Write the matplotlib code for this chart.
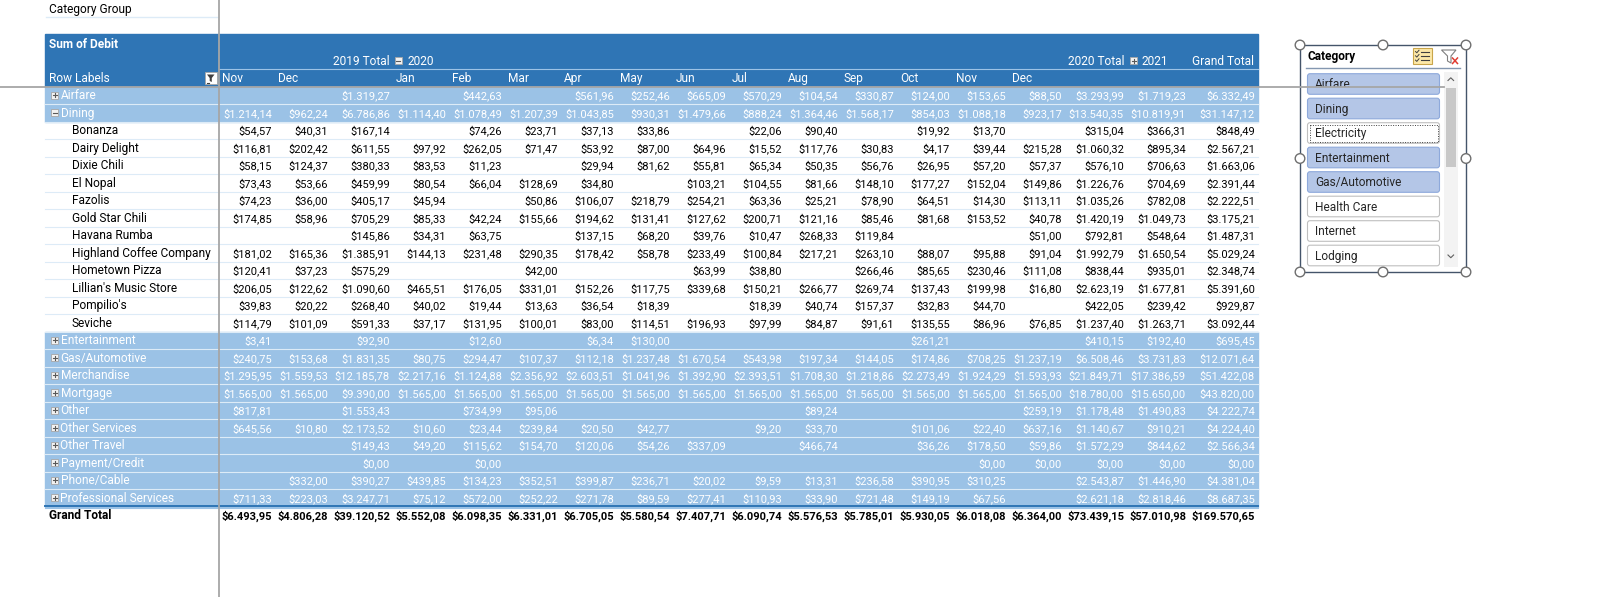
import matplotlib.pyplot as plt
from matplotlib.patches import Rectangle, FancyBboxPatch, Circle, Polygon
from matplotlib.transforms import Bbox, TransformedBbox

plt.rcParams['font.family'] = ['Roboto', 'DejaVu Sans']

N = None

# ---- pivot data (Nov19, Dec19, 2019 Total, Jan..Dec 2020, 2020 Total, 2021, Grand Total)
col_labels = ['Nov', 'Dec', '2019 Total', 'Jan', 'Feb', 'Mar', 'Apr', 'May', 'Jun',
              'Jul', 'Aug', 'Sep', 'Oct', 'Nov', 'Dec', '2020 Total', '2021', 'Grand Total']
month_cols = [0, 1, 3, 4, 5, 6, 7, 8, 9, 10, 11, 12, 13, 14]

airfare = [N, N, 1319.27, N, 442.63, N, 561.96, 252.46, 665.09, 570.29, 104.54, 330.87,
           124.00, 153.65, 88.50, 3293.99, 1719.23, 6332.49]
dining = [1214.14, 962.24, 6786.86, 1114.40, 1078.49, 1207.39, 1043.85, 930.31, 1479.66,
          888.24, 1364.46, 1568.17, 854.03, 1088.18, 923.17, 13540.35, 10819.91, 31147.12]
bonanza = [54.57, 40.31, 167.14, N, 74.26, 23.71, 37.13, 33.86, N, 22.06, 90.40, N,
           19.92, 13.70, N, 315.04, 366.31, 848.49]
dairy_delight = [116.81, 202.42, 611.55, 97.92, 262.05, 71.47, 53.92, 87.00, 64.96, 15.52,
                 117.76, 30.83, 4.17, 39.44, 215.28, 1060.32, 895.34, 2567.21]
dixie_chili = [58.15, 124.37, 380.33, 83.53, 11.23, N, 29.94, 81.62, 55.81, 65.34, 50.35,
               56.76, 26.95, 57.20, 57.37, 576.10, 706.63, 1663.06]
el_nopal = [73.43, 53.66, 459.99, 80.54, 66.04, 128.69, 34.80, N, 103.21, 104.55, 81.66,
            148.10, 177.27, 152.04, 149.86, 1226.76, 704.69, 2391.44]
fazolis = [74.23, 36.00, 405.17, 45.94, N, 50.86, 106.07, 218.79, 254.21, 63.36, 25.21,
           78.90, 64.51, 14.30, 113.11, 1035.26, 782.08, 2222.51]
gold_star_chili = [174.85, 58.96, 705.29, 85.33, 42.24, 155.66, 194.62, 131.41, 127.62,
                   200.71, 121.16, 85.46, 81.68, 153.52, 40.78, 1420.19, 1049.73, 3175.21]
havana_rumba = [N, N, 145.86, 34.31, 63.75, N, 137.15, 68.20, 39.76, 10.47, 268.33, 119.84,
                N, N, 51.00, 792.81, 548.64, 1487.31]
highland_coffee = [181.02, 165.36, 1385.91, 144.13, 231.48, 290.35, 178.42, 58.78, 233.49,
                   100.84, 217.21, 263.10, 88.07, 95.88, 91.04, 1992.79, 1650.54, 5029.24]
hometown_pizza = [120.41, 37.23, 575.29, N, N, 42.00, N, N, 63.99, 38.80, N, 266.46, 85.65,
                  230.46, 111.08, 838.44, 935.01, 2348.74]
lillians = [206.05, 122.62, 1090.60, 465.51, 176.05, 331.01, 152.26, 117.75, 339.68, 150.21,
            266.77, 269.74, 137.43, 199.98, 16.80, 2623.19, 1677.81, 5391.60]
pompilios = [39.83, 20.22, 268.40, 40.02, 19.44, 13.63, 36.54, 18.39, N, 18.39, 40.74,
             157.37, 32.83, 44.70, N, 422.05, 239.42, 929.87]
seviche = [114.79, 101.09, 591.33, 37.17, 131.95, 100.01, 83.00, 114.51, 196.93, 97.99,
           84.87, 91.61, 135.55, 86.96, 76.85, 1237.40, 1263.71, 3092.44]
entertainment = [3.41, N, 92.90, N, 12.60, N, 6.34, 130.00, N, N, N, N, 261.21, N, N,
                 410.15, 192.40, 695.45]
gas_automotive = [240.75, 153.68, 1831.35, 80.75, 294.47, 107.37, 112.18, 1237.48, 1670.54,
                  543.98, 197.34, 144.05, 174.86, 708.25, 1237.19, 6508.46, 3731.83, 12071.64]
merchandise = [1295.95, 1559.53, 12185.78, 2217.16, 1124.88, 2356.92, 2603.51, 1041.96,
               1392.90, 2393.51, 1708.30, 1218.86, 2273.49, 1924.29, 1593.93, 21849.71,
               17386.59, 51422.08]
mortgage = [1565.00, 1565.00, 9390.00, 1565.00, 1565.00, 1565.00, 1565.00, 1565.00, 1565.00,
            1565.00, 1565.00, 1565.00, 1565.00, 1565.00, 1565.00, 18780.00, 15650.00, 43820.00]
other = [817.81, N, 1553.43, N, 734.99, 95.06, N, N, N, N, 89.24, N, N, N, 259.19,
         1178.48, 1490.83, 4222.74]
other_services = [645.56, 10.80, 2173.52, 10.60, 23.44, 239.84, 20.50, 42.77, N, 9.20, 33.70,
                  N, 101.06, 22.40, 637.16, 1140.67, 910.21, 4224.40]
other_travel = [N, N, 149.43, 49.20, 115.62, 154.70, 120.06, 54.26, 337.09, N, 466.74, N,
                36.26, 178.50, 59.86, 1572.29, 844.62, 2566.34]
payment_credit = [N, N, 0.0, N, 0.0, N, N, N, N, N, N, N, N, 0.0, 0.0, 0.0, 0.0, 0.0]
phone_cable = [N, 332.00, 390.27, 439.85, 134.23, 352.51, 399.87, 236.71, 20.02, 9.59, 13.31,
               236.58, 390.95, 310.25, N, 2543.87, 1446.90, 4381.04]
professional_services = [711.33, 223.03, 3247.71, 75.12, 572.00, 252.22, 271.78, 89.59,
                         277.41, 110.93, 33.90, 721.48, 149.19, 67.56, N, 2621.18, 2818.46,
                         8687.35]
grand_total = [6493.95, 4806.28, 39120.52, 5552.08, 6098.35, 6331.01, 6705.05, 5580.54,
               7407.71, 6090.74, 5576.53, 5785.01, 5930.05, 6018.08, 6364.00, 73439.15,
               57010.98, 169570.65]

rows = [
    ('Airfare', 'cat', '+', airfare),
    ('Dining', 'cat', '-', dining),
    ('Bonanza', 'sub', '', bonanza),
    ('Dairy Delight', 'sub', '', dairy_delight),
    ('Dixie Chili', 'sub', '', dixie_chili),
    ('El Nopal', 'sub', '', el_nopal),
    ('Fazolis', 'sub', '', fazolis),
    ('Gold Star Chili', 'sub', '', gold_star_chili),
    ('Havana Rumba', 'sub', '', havana_rumba),
    ('Highland Coffee Company', 'sub', '', highland_coffee),
    ('Hometown Pizza', 'sub', '', hometown_pizza),
    ("Lillian's Music Store", 'sub', '', lillians),
    ("Pompilio's", 'sub', '', pompilios),
    ('Seviche', 'sub', '', seviche),
    ('Entertainment', 'cat', '+', entertainment),
    ('Gas/Automotive', 'cat', '+', gas_automotive),
    ('Merchandise', 'cat', '+', merchandise),
    ('Mortgage', 'cat', '+', mortgage),
    ('Other', 'cat', '+', other),
    ('Other Services', 'cat', '+', other_services),
    ('Other Travel', 'cat', '+', other_travel),
    ('Payment/Credit', 'cat', '+', payment_credit),
    ('Phone/Cable', 'cat', '+', phone_cable),
    ('Professional Services', 'cat', '+', professional_services),
]

slicer_items = ['Airfare', 'Dining', 'Electricity', 'Entertainment', 'Gas/Automotive',
                'Health Care', 'Internet', 'Lodging']
slicer_selected = [True, True, False, True, True, False, False, False]

# ---- styling
HEAD_BLUE = '#2F75B5'
CAT_BLUE = '#9BC2E6'
SEP_LIGHT = '#DDEBF7'
GRID_GRAY = '#A6A6A6'
FS = 8.0      # numbers
FS_LAB = 8.6  # labels (Calibri letters run wider than its digits)
CAP = 4.05    # half cap height in px, used to centre text on a row

widths = [56, 56, 62] + [56] * 12 + [62, 62, 69]
edges = [219]
for w in widths:
    edges.append(edges[-1] + w)
X0, X1 = 45, edges[-1]
Y_HEAD = 33.5
Y_DATA = 86.5
ROW_H = 17.5


def money(v):
    if v is None:
        return ''
    s = f'{v:,.2f}'
    return '$' + s.replace(',', '_').replace('.', ',').replace('_', '.')


def txt(ax, x, y, s, **kw):
    kw.setdefault('fontsize', FS_LAB)
    kw.setdefault('va', 'baseline')
    return ax.text(x, y + CAP, s, **kw)


def toggle(ax, x, y, sign):
    ax.add_patch(Rectangle((x - 3.5, y - 3.5), 7, 7, fc='#F2F2F2', ec='#A6A6A6', lw=0.6, zorder=3))
    ax.plot([x - 2, x + 2], [y, y], color='#595959', lw=0.8, zorder=4)
    if sign == '+':
        ax.plot([x, x], [y - 2, y + 2], color='#595959', lw=0.8, zorder=4)


fig = plt.figure(figsize=(16, 5.97), dpi=100)
ax = fig.add_axes([0, 0, 1, 1])
ax.set_xlim(0, 1600)
ax.set_ylim(597, 0)
ax.axis('off')

# page filter cell
txt(ax, 49, 8.5, 'Category Group', color='black')
ax.plot([46, 218], [16.5, 16.5], color=SEP_LIGHT, lw=1)

# header block
ax.add_patch(Rectangle((X0, Y_HEAD), X1 - X0, Y_DATA - Y_HEAD, color=HEAD_BLUE, zorder=1))
ax.plot([219, X1], [68.5, 68.5], color='#9DC3E6', lw=0.8, zorder=2)
txt(ax, 49, 43.5, 'Sum of Debit', color='white', fontweight='bold')
txt(ax, edges[3] - 3, 60.7, '2019 Total', color='white', ha='right')
toggle(ax, edges[3] + 5, 60.7, '-')
txt(ax, edges[3] + 14, 60.7, '2020', color='white')
txt(ax, edges[16] - 3, 60.7, '2020 Total', color='white', ha='right')
toggle(ax, edges[16] + 6.5, 60.7, '+')
txt(ax, edges[16] + 15, 60.7, '2021', color='white')
txt(ax, edges[17] + 3, 60.7, 'Grand Total', color='white')
txt(ax, 49, 78, 'Row Labels', color='white')
for j in month_cols:
    txt(ax, edges[j] + 3, 78, col_labels[j], color='white')

# row label filter button
ax.add_patch(Rectangle((204.5, 72), 12, 12, fc='white', ec='#A6A6A6', lw=0.6, zorder=3))
ax.add_patch(Polygon([(207, 74.5), (214.5, 74.5), (211.8, 78), (211.8, 82), (209.7, 81),
                      (209.7, 78)], closed=True, fc='#404040', ec='none', zorder=4))
ax.plot([206.5, 208.5], [82.5, 82.5], color='#404040', lw=0.8, zorder=4)

# body
for r, (label, kind, sign, vals) in enumerate(rows):
    top = Y_DATA + r * ROW_H
    yc = top + ROW_H / 2
    if kind == 'cat':
        ax.add_patch(Rectangle((X0, top), X1 - X0, ROW_H, color=CAT_BLUE, zorder=1))
        toggle(ax, 54.5, yc, sign)
        txt(ax, 60.5, yc, label, color='white')
        color = 'white'
    else:
        txt(ax, 72, yc, label, color='black')
        color = 'black'
    for j, v in enumerate(vals):
        txt(ax, edges[j + 1] - 3, yc, money(v), color=color, ha='right', fontsize=FS)
    if r < len(rows) - 1:
        ax.plot([X0, X1], [top + ROW_H, top + ROW_H], color=SEP_LIGHT, lw=0.8, zorder=2)

gt_top = Y_DATA + len(rows) * ROW_H
gt_yc = gt_top + ROW_H / 2
ax.plot([X0, X1], [gt_top - 0.5, gt_top - 0.5], color=HEAD_BLUE, lw=1.4, zorder=2)
ax.plot([X0, X1], [gt_top + 1.2, gt_top + 1.2], color=CAT_BLUE, lw=0.8, zorder=2)
txt(ax, 49, gt_yc, 'Grand Total', color='black', fontweight='bold')
for j, v in enumerate(grand_total):
    txt(ax, edges[j + 1] - 3, gt_yc, money(v), color='black', fontweight='bold', ha='right',
        fontsize=FS)

# ---- slicer
SL, SR, ST, SB = 1300, 1466, 45, 272
ax.add_patch(Rectangle((SL, ST), SR - SL, SB - ST, fc='white', ec='#44546A', lw=1.0, zorder=5))
txt(ax, 1307, 56, 'Category', color='black', fontweight='bold', zorder=6)
ax.plot([1306, 1460], [67.5, 67.5], color='#8497B0', lw=1, zorder=6)

# multi-select icon
ax.add_patch(Rectangle((1413, 47.5), 18.5, 16.5, fc='#FCE8A8', ec='#C9A54A', lw=0.8, zorder=6))
for k in range(3):
    yy = 51.5 + k * 4.3
    ax.plot([1415.5, 1416.8, 1419], [yy, yy + 1.3, yy - 1.3], color='#404040', lw=0.7, zorder=7)
    ax.plot([1420.5, 1429], [yy, yy], color='#404040', lw=0.8, zorder=7)

# clear filter icon
ax.add_patch(Polygon([(1441.5, 50), (1456, 50), (1451, 56), (1451, 63), (1447.5, 61),
                      (1447.5, 56)], closed=True, fc='white', ec='#7F7F7F', lw=0.8, zorder=6))
ax.plot([1452.5, 1457.5], [58, 63.5], color='#E03C31', lw=1.1, zorder=7)
ax.plot([1457.5, 1452.5], [58, 63.5], color='#E03C31', lw=1.1, zorder=7)

# scrollbar
ax.add_patch(Rectangle((1444, 72), 13.5, 195, fc='#F3F3F3', ec='none', zorder=5.5))
ax.add_patch(Rectangle((1445.5, 88), 10.5, 79, fc='#C8C8C8', ec='none', zorder=6))
ax.plot([1448, 1450.8, 1453.6], [80.5, 77.8, 80.5], color='#606060', lw=0.8, zorder=7)
ax.plot([1448, 1450.8, 1453.6], [255, 257.7, 255], color='#606060', lw=0.8, zorder=7)

clip = TransformedBbox(Bbox([[1300, 60], [1470, 86.5]]), ax.transData)
for k, (item, sel) in enumerate(zip(slicer_items, slicer_selected)):
    yc = 84 + k * 24.5
    if sel:
        fc, ec = '#B4C6E7', '#8EA9DB'
    else:
        fc, ec = 'white', '#BFBFBF'
    ax.add_patch(FancyBboxPatch((1307.5, yc - 10.3), 132, 20.6,
                                boxstyle='round,pad=0,rounding_size=2.5',
                                fc=fc, ec=ec, lw=0.8, zorder=6))
    if item == 'Electricity':
        ax.add_patch(Rectangle((1309.5, yc - 8.5), 128, 17, fc='none', ec='#404040',
                               lw=0.7, ls=(0, (1, 1.5)), zorder=7))
    t = txt(ax, 1315, yc, item, color='#262626', zorder=8)
    if k == 0:
        t.set_clip_box(clip)
        t.set_clip_on(True)

# slicer sizing handles
for hx in (SL, (SL + SR) / 2, SR):
    for hy in (ST, (ST + SB) / 2, SB):
        if hx == (SL + SR) / 2 and hy == (ST + SB) / 2:
            continue
        ax.add_patch(Circle((hx, hy), 4.8, fc='white', ec='#6E6E6E', lw=1.0, zorder=9))

# frozen pane lines
ax.plot([219, 219], [0, 597], color=GRID_GRAY, lw=1.3, zorder=8.5)
ax.plot([0, 1444], [86.5, 86.5], color=GRID_GRAY, lw=1.3, zorder=8.5)

fig.savefig('out.png', dpi=100)
